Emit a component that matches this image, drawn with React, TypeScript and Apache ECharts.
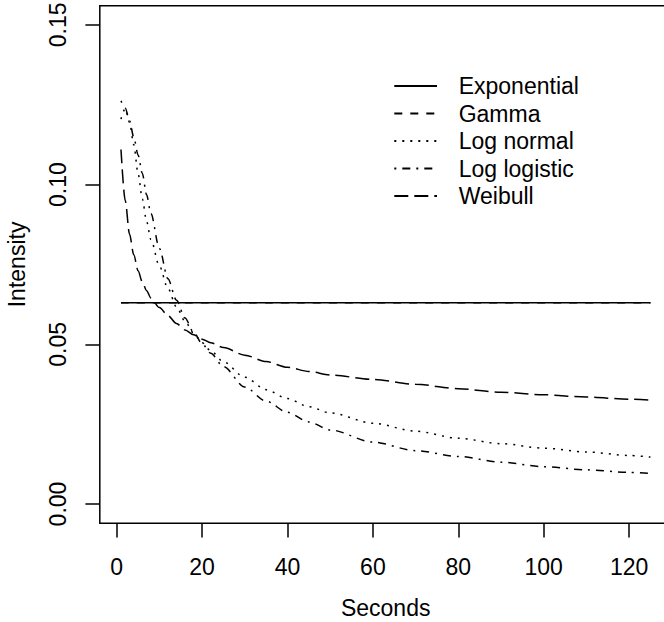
import React, { useEffect, useRef } from "react";
import * as echarts from "echarts";

// ---- data ----
const curveX = [1, 2, 3, 4, 5, 6, 7, 8, 10, 12, 14, 16, 18, 20, 22, 25, 30, 35, 40, 45, 50, 60, 70, 80, 90, 100, 110, 120, 125];
const weibull = [0.111, 0.095, 0.0845, 0.078, 0.073, 0.0695, 0.0668, 0.0645, 0.0615, 0.059, 0.0565, 0.0545, 0.053, 0.0516, 0.0505, 0.049, 0.0466, 0.0446, 0.0428, 0.0415, 0.0404, 0.039, 0.0375, 0.0361, 0.035, 0.0342, 0.0335, 0.0328, 0.0325];
const logNormal = [0.1205, 0.1238, 0.1195, 0.1125, 0.1035, 0.0955, 0.0885, 0.0828, 0.0745, 0.0675, 0.0617, 0.0572, 0.0535, 0.0505, 0.048, 0.0445, 0.0397, 0.0358, 0.033, 0.0305, 0.0285, 0.0253, 0.0228, 0.0206, 0.0189, 0.0175, 0.0163, 0.0152, 0.0147];
const logLogistic = [0.1262, 0.124, 0.12, 0.1148, 0.1093, 0.1035, 0.0968, 0.091, 0.08, 0.0705, 0.0638, 0.0582, 0.0538, 0.0502, 0.0472, 0.043, 0.0366, 0.0322, 0.0287, 0.0257, 0.0232, 0.0194, 0.0167, 0.0149, 0.0131, 0.0117, 0.0107, 0.0099, 0.0096];
const flatX = [1, 125];
const exponential = [0.063, 0.063];
const gamma = [0.063, 0.063];

const xTicks = [0, 20, 40, 60, 80, 100, 120];
const yTicks = [0, 0.05, 0.1, 0.15];
const seriesNames = ["Exponential", "Gamma", "Log normal", "Log logistic", "Weibull"];

const FONT = '"Liberation Sans", Arial, Helvetica, sans-serif';

function pairs(xs: number[], ys: number[]) {
  return xs.map((x, i) => [x, ys[i]]);
}

export default function App() {
  const ref = useRef<HTMLDivElement>(null);
  useEffect(() => {
    if (!ref.current) return;
    const chart = echarts.init(ref.current, undefined, { renderer: "svg" });
    const lineBase = (name: string, data: number[][], dash: any, z: number) => ({
      name,
      type: "line",
      data,
      symbol: "none",
      smooth: 0.3,
      smoothMonotone: "x",
      z,
      lineStyle: { color: "#000", width: 1.5, type: dash },
      itemStyle: { color: "#000" },
    });
    chart.setOption({
      animation: false,
      backgroundColor: "#fff",
      textStyle: { fontFamily: FONT },
      grid: {
        left: 99.8,
        top: 5.7,
        width: 571.8,
        height: 517.5,
        show: true,
        borderColor: "#000",
        borderWidth: 1.5,
        containLabel: false,
        outerBoundsMode: "none",
      },
      legend: {
        data: seriesNames,
        orient: "vertical",
        left: 393.3,
        top: 74.5,
        padding: 0,
        itemWidth: 42.7,
        itemHeight: 14,
        itemGap: 4.5,
        itemStyle: { color: "rgba(0,0,0,0)", borderWidth: 0, opacity: 0 },
        textStyle: {
          fontFamily: FONT,
          fontSize: 23,
          lineHeight: 23,
          color: "#000",
          padding: [0, 0, 0, 16.7],
        },
        selectedMode: false,
      },
      xAxis: {
        type: "value",
        min: -3.96,
        max: 129.96,
        name: "Seconds",
        nameLocation: "middle",
        nameGap: 73.3,
        nameMoveOverlap: false,
        nameTextStyle: { fontFamily: FONT, fontSize: 23, lineHeight: 23, color: "#000" },
        axisLine: { show: false, onZero: false },
        splitLine: { show: false },
        axisTick: {
          show: true,
          length: 14.4,
          customValues: xTicks,
          lineStyle: { color: "#000", width: 1.5 },
        },
        axisLabel: {
          customValues: xTicks,
          margin: 32.3,
          fontFamily: FONT,
          fontSize: 23,
          lineHeight: 23,
          color: "#000",
        },
      },
      yAxis: {
        type: "value",
        min: -0.006,
        max: 0.156,
        name: "Intensity",
        nameLocation: "middle",
        nameRotate: 90,
        nameGap: 71.3,
        nameMoveOverlap: false,
        nameTextStyle: { fontFamily: FONT, fontSize: 23, lineHeight: 23, color: "#000" },
        axisLine: { show: false, onZero: false },
        splitLine: { show: false },
        axisTick: {
          show: true,
          length: 14.4,
          customValues: yTicks,
          lineStyle: { color: "#000", width: 1.5 },
        },
        axisLabel: {
          customValues: yTicks,
          rotate: 90,
          margin: 30.3,
          fontFamily: FONT,
          fontSize: 23,
          lineHeight: 23,
          color: "#000",
          formatter: (v: number) => v.toFixed(2),
        },
      },
      series: [
        lineBase("Exponential", pairs(flatX, exponential), "solid", 4),
        lineBase("Gamma", pairs(flatX, gamma), [8, 8], 2),
        lineBase("Log normal", pairs(curveX, logNormal), [2, 6], 3),
        lineBase("Log logistic", pairs(curveX, logLogistic), [2, 6, 8, 6], 3),
        lineBase("Weibull", pairs(curveX, weibull), [14, 6], 3),
      ],
    });
    return () => chart.dispose();
  }, []);
  return (
    <div
      ref={ref}
      style={{ position: "absolute", left: 0, top: 0, width: 664, height: 622 }}
    />
  );
}
